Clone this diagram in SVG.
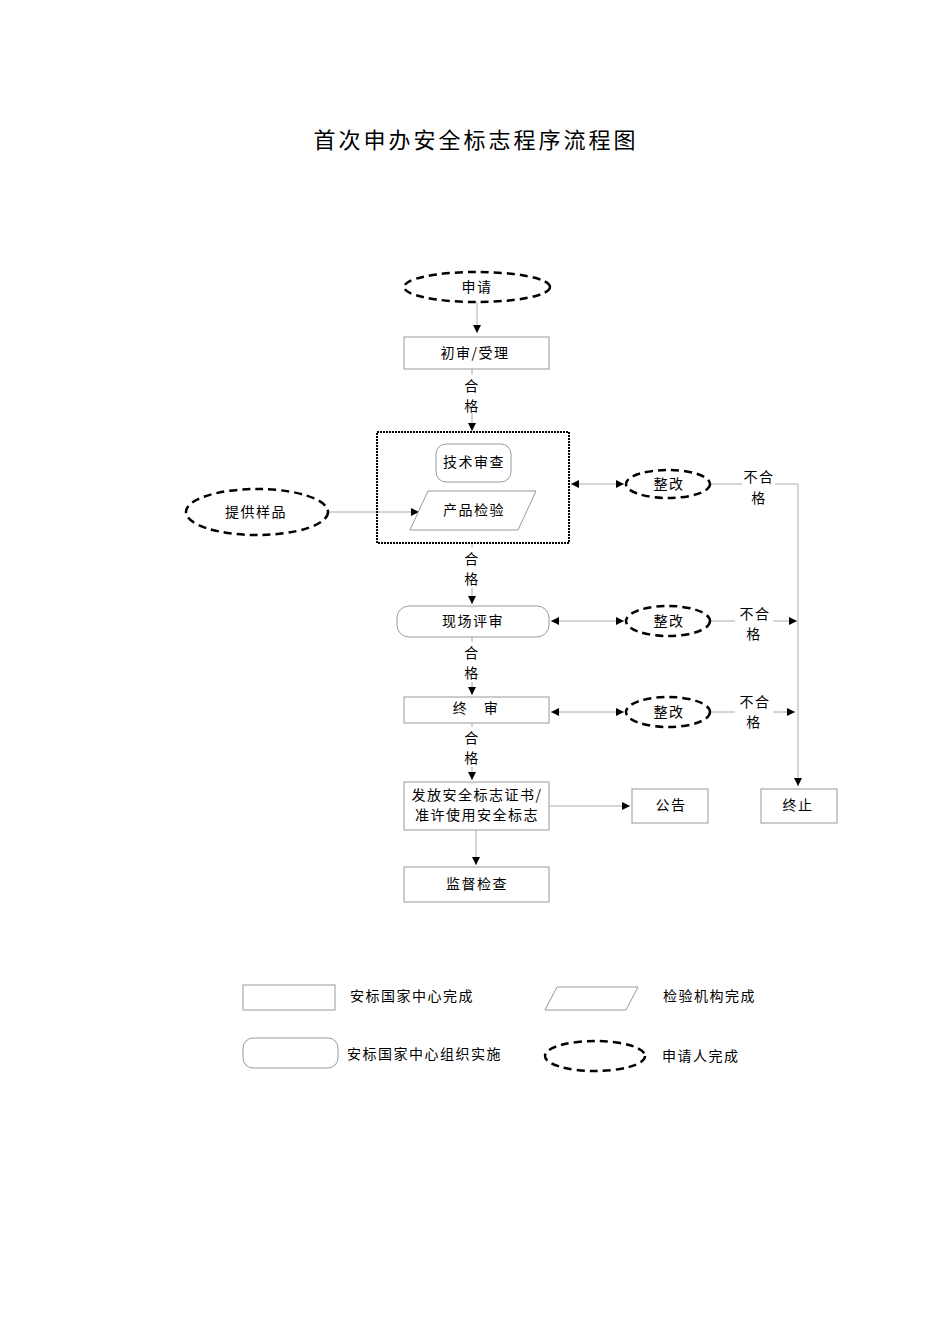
<svg xmlns="http://www.w3.org/2000/svg" width="950" height="1344" viewBox="0 0 950 1344">
<style>
text{font-family:"Noto Sans CJK SC","Liberation Sans",sans-serif;fill:#000;font-size:14px;letter-spacing:1.5px}
.c{text-anchor:middle}
.b{fill:#fff;stroke:#999;stroke-width:1}
.e{fill:#fff;stroke:#000;stroke-width:2.5;stroke-dasharray:8 5}
.l{fill:none;stroke:#aaa;stroke-width:1}
</style>
<defs>
<marker id="a" markerWidth="8" markerHeight="8" refX="8" refY="4" orient="auto-start-reverse" markerUnits="userSpaceOnUse"><path d="M0,0L8,4L0,8Z" fill="#000"/></marker>
</defs>
<rect width="950" height="1344" fill="#fff"/>
<text x="476" y="148" class="c" style="font-size:22px;letter-spacing:3px">首次申办安全标志程序流程图</text>
<g id="connectors">
<path class="l" d="M477,302V333" marker-end="url(#a)"/>
<path class="l" d="M472,369V375M472,413V431" marker-end="url(#a)"/>
<path class="l" d="M328,512H419" marker-end="url(#a)"/>
<path class="l" d="M571,484H624" marker-start="url(#a)" marker-end="url(#a)"/>
<path class="l" d="M710,484H742M775,484H798V786" marker-end="url(#a)"/>
<path class="l" d="M472,543V548M472,588V604" marker-end="url(#a)"/>
<path class="l" d="M551,621H624" marker-start="url(#a)" marker-end="url(#a)"/>
<path class="l" d="M710,621H735M773,621H797" marker-end="url(#a)"/>
<path class="l" d="M472,637V642M472,682V695" marker-end="url(#a)"/>
<path class="l" d="M551,712H624" marker-start="url(#a)" marker-end="url(#a)"/>
<path class="l" d="M710,712H735M773,712H795" marker-end="url(#a)"/>
<path class="l" d="M472,723V727M472,767V780" marker-end="url(#a)"/>
<path class="l" d="M549,806H630" marker-end="url(#a)"/>
<path class="l" d="M476,830V865" marker-end="url(#a)"/>
<text x="472" y="391" class="c">合</text><text x="472" y="411" class="c">格</text>
<text x="472" y="564" class="c">合</text><text x="472" y="584" class="c">格</text>
<text x="472" y="658" class="c">合</text><text x="472" y="678" class="c">格</text>
<text x="472" y="743" class="c">合</text><text x="472" y="763" class="c">格</text>
<text x="759" y="482" class="c">不合</text><text x="759" y="503" class="c">格</text>
<text x="755" y="619" class="c">不合</text><text x="754" y="639" class="c">格</text>
<text x="755" y="707" class="c">不合</text><text x="754" y="727" class="c">格</text>
</g>
<g id="n1"><ellipse class="e" cx="477" cy="287" rx="73" ry="15"/><text x="477" y="292" class="c">申请</text></g>
<g id="n2"><rect class="b" x="404" y="337" width="145" height="32"/><text x="475" y="358" class="c">初审/受理</text></g>
<g id="n3"><rect x="377" y="432" width="192" height="111" fill="none" stroke="#000" stroke-width="2" stroke-dasharray="2 1"/></g>
<g id="n4"><rect class="b" x="436" y="444" width="75" height="38" rx="10"/><text x="474" y="467" class="c">技术审查</text></g>
<g id="n5"><path class="b" d="M428,491H536L518,530H410Z"/><text x="474" y="515" class="c">产品检验</text></g>
<g id="n6"><ellipse class="e" cx="257" cy="512" rx="71" ry="23"/><text x="256" y="517" class="c">提供样品</text></g>
<g id="n7"><ellipse class="e" cx="668" cy="484" rx="42" ry="14"/><text x="669" y="489" class="c">整改</text></g>
<g id="n8"><rect class="b" x="397" y="606" width="152" height="31" rx="12"/><text x="473" y="626" class="c">现场评审</text></g>
<g id="n9"><ellipse class="e" cx="668" cy="621" rx="42" ry="15"/><text x="669" y="626" class="c">整改</text></g>
<g id="n10"><rect class="b" x="404" y="697" width="145" height="26"/><text x="476" y="713" class="c">终　审</text></g>
<g id="n11"><ellipse class="e" cx="668" cy="712" rx="42" ry="15"/><text x="669" y="717" class="c">整改</text></g>
<g id="n12"><rect class="b" x="404" y="782" width="145" height="48"/><text x="477" y="800" class="c">发放安全标志证书/</text><text x="477" y="820" class="c">准许使用安全标志</text></g>
<g id="n13"><rect class="b" x="632" y="789" width="76" height="34"/><text x="671" y="810" class="c">公告</text></g>
<g id="n14"><rect class="b" x="761" y="789" width="76" height="34"/><text x="798" y="810" class="c">终止</text></g>
<g id="n15"><rect class="b" x="404" y="867" width="145" height="35"/><text x="477" y="889" class="c">监督检查</text></g>
<g id="legend">
<rect class="b" x="243" y="985" width="92" height="25"/><text x="350" y="1001">安标国家中心完成</text>
<path class="b" d="M557,987H638L626,1010H545Z"/><text x="663" y="1001">检验机构完成</text>
<rect class="b" x="243" y="1038" width="95" height="30" rx="10"/><text x="347" y="1059">安标国家中心组织实施</text>
<ellipse class="e" cx="595" cy="1056" rx="50" ry="15"/><text x="662" y="1061">申请人完成</text>
</g>
</svg>
